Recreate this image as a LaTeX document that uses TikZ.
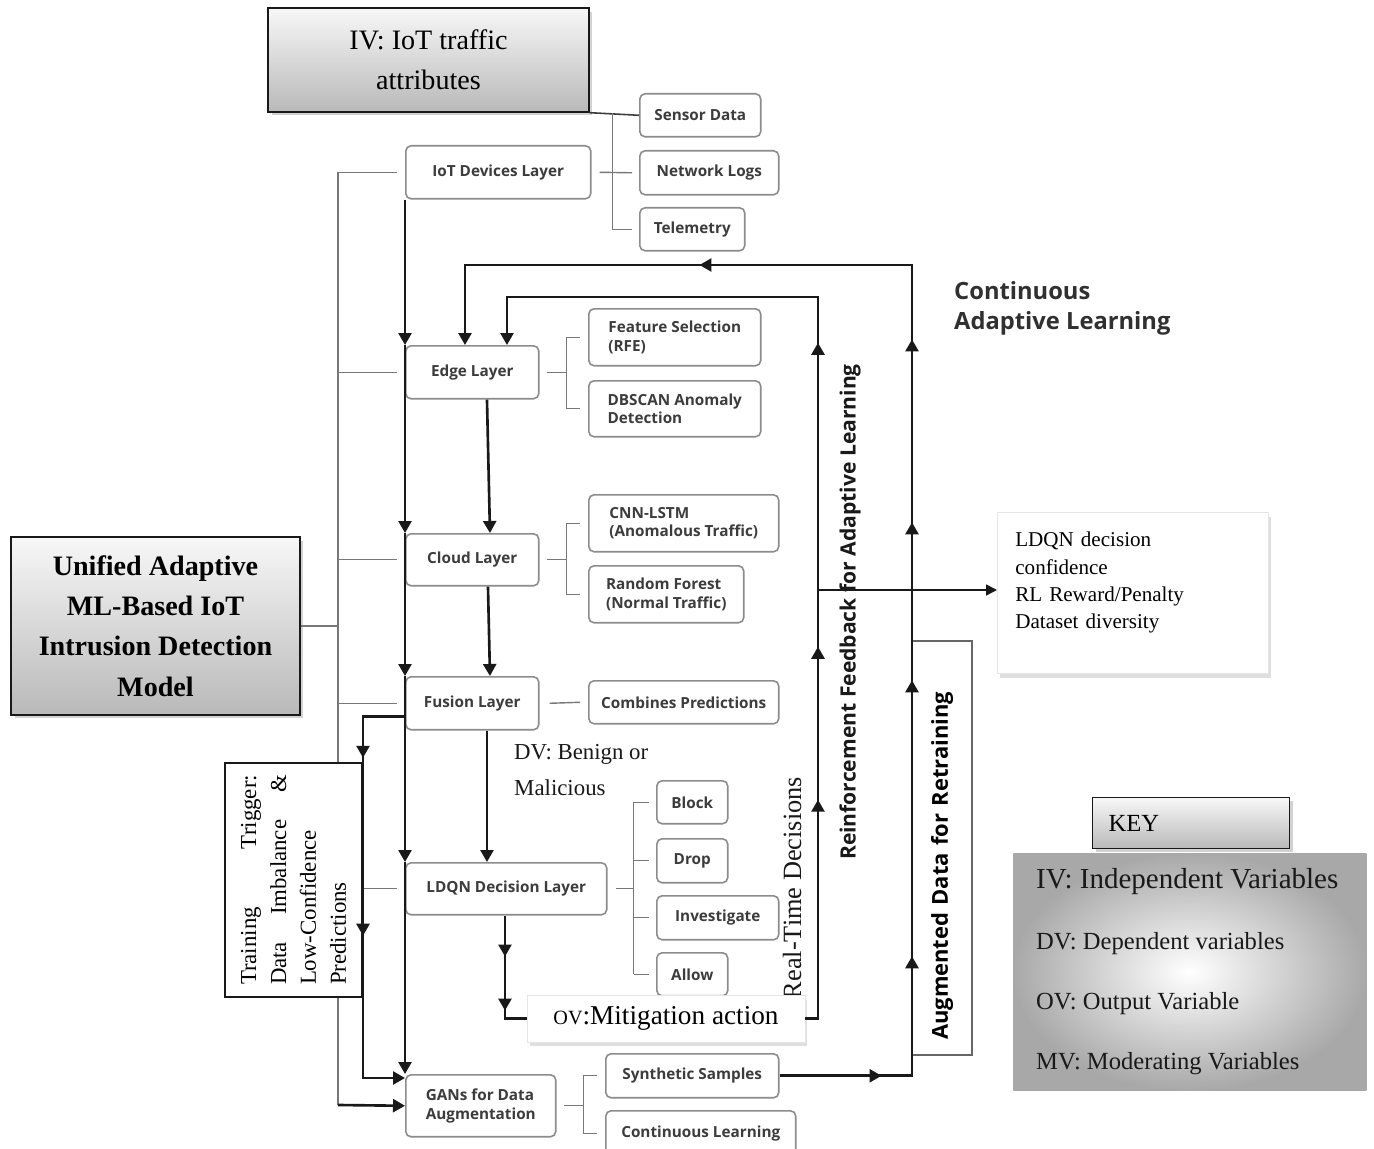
\documentclass[tikz,border=0pt]{standalone}
\usepackage{fontspec}
\setmainfont{Liberation Serif}
\newfontfamily\osans{Open Sans}
\usetikzlibrary{arrows.meta,shadows,calc,decorations.markings}
\definecolor{ink}{RGB}{25,25,25}
\definecolor{boxedge}{RGB}{140,140,140}
\definecolor{boxtext}{RGB}{60,60,60}
\definecolor{bracegray}{RGB}{120,120,120}
\tikzset{
  >={Triangle[length=2.4mm,width=2.6mm]},
  lbox/.style={draw=boxedge,line width=0.9pt,rounded corners=3pt,fill=white,
    anchor=north west,inner sep=0pt,align=left,text=boxtext,
    font=\osans\bfseries\fontsize{8.7}{10.6}\selectfont},
  vbox/.style={draw=ink,line width=0.8pt,top color=gray!6,bottom color=gray!55,
    align=center,drop shadow={opacity=0.35,shadow xshift=0.7mm,shadow yshift=-0.7mm}},
  note/.style={draw=gray!20,fill=white,
    drop shadow={opacity=0.25,shadow xshift=0.5mm,shadow yshift=-0.9mm}},
  flow/.style={line width=1.5pt,draw=ink},
  bline/.style={line width=0.8pt,draw=bracegray},
  sidelabel/.style={rotate=90,text=ink,font=\osans\bfseries\fontsize{12}{14}\selectfont},
  tipat/.style={postaction={decorate,decoration={markings,mark=at position #1 with {\arrow{>}}}}},
}
\begin{document}
\begin{tikzpicture}[x=0.02cm,y=-0.02cm]
\fill[white] (0,0) rectangle (1374,1149);
\useasboundingbox (0,0) rectangle (1374,1149);

% variable boxes
\node[vbox,minimum width=6.42cm,minimum height=2.08cm,font=\fontsize{16}{23}\selectfont] (iv) at (428.5,60) {IV: IoT traffic\\attributes};
\node[vbox,minimum width=5.78cm,minimum height=3.56cm,font=\bfseries\fontsize{16}{23}\selectfont] (uni) at (155.5,626) {Unified Adaptive\\ML-Based IoT\\Intrusion Detection\\Model};

% layers
\node[lbox,minimum width=3.70cm,minimum height=1.06cm] (iot) at (405,145) {IoT Devices Layer};
\node[lbox,minimum width=2.66cm,minimum height=1.06cm] (edge) at (405,345) {Edge Layer};
\node[lbox,minimum width=2.66cm,minimum height=1.04cm] (cloud) at (405,533) {Cloud Layer};
\node[lbox,minimum width=2.66cm,minimum height=1.06cm] (fusion) at (405,676) {Fusion Layer};
\node[lbox,minimum width=4.02cm,minimum height=1.04cm] (ldqn) at (405,862) {LDQN Decision Layer};
\node[lbox,minimum width=3.00cm,minimum height=1.24cm] (gans) at (405,1074) {GANs for Data\\Augmentation};

% layer details
\node[lbox,minimum width=2.42cm,minimum height=0.86cm] (sensor) at (639,93) {Sensor Data};
\node[lbox,minimum width=2.78cm,minimum height=0.88cm] (netlog) at (639,150) {Network Logs};
\node[lbox,minimum width=2.10cm,minimum height=0.86cm] (tele) at (639,207) {Telemetry};
\node[lbox,minimum width=3.44cm,minimum height=1.14cm] (rfe) at (588,308) {Feature Selection\\(RFE)};
\node[lbox,minimum width=3.44cm,minimum height=1.12cm] (dbscan) at (588,380) {DBSCAN Anomaly\\Detection};
\node[lbox,minimum width=3.80cm,minimum height=1.14cm] (cnn) at (588,494) {CNN-LSTM\\(Anomalous Traffic)};
\node[lbox,minimum width=3.10cm,minimum height=1.14cm] (rforest) at (588,565) {Random Forest\\(Normal Traffic)};
\node[lbox,minimum width=3.80cm,minimum height=0.86cm] (combine) at (588,680) {Combines Predictions};
\node[lbox,minimum width=1.42cm,minimum height=0.86cm] (block) at (656,780) {Block};
\node[lbox,minimum width=1.42cm,minimum height=0.88cm] (drop) at (656,838) {Drop};
\node[lbox,minimum width=2.44cm,minimum height=0.88cm] (invest) at (656,895) {Investigate};
\node[lbox,minimum width=1.42cm,minimum height=0.86cm] (allow) at (656,952) {Allow};
\node[lbox,minimum width=3.46cm,minimum height=0.88cm] (synth) at (605,1053) {Synthetic Samples};
\node[lbox,minimum width=3.80cm,minimum height=0.90cm] (contl) at (605,1110) {Continuous Learning};

% left bracket
\coordinate (brT) at (338,172);
\coordinate (brB) at (338,1105);
\draw[bline] (brT) -- (brB);
\foreach \n in {iot,edge,cloud,fusion,ldqn}
  \draw[bline] (brT |- \n.west) -- ([xshift=-0.16cm]\n.west);
\draw[bline] (uni.east) -- (brT |- uni.east);

% right brackets
\draw[line width=0.9pt,draw=ink!85] (iv.south east) -- (sensor.west);
\draw[bline] ([xshift=0.46cm]iv.south east) |- ([xshift=-0.14cm]tele.west);
\draw[bline] ([xshift=0.16cm]iot.east) -- ([xshift=-0.14cm]netlog.west);
\coordinate (bE) at ([xshift=0.54cm]edge.east);
\draw[bline] ([xshift=0.14cm]edge.east) -- (bE);
\draw[bline] ([xshift=-0.16cm]rfe.west) -| (bE) |- ([xshift=-0.16cm]dbscan.west);
\coordinate (bC) at ([xshift=0.54cm]cloud.east);
\draw[bline] ([xshift=0.14cm]cloud.east) -- (bC);
\draw[bline] ([xshift=-0.16cm]cnn.west) -| (bC) |- ([xshift=-0.16cm]rforest.west);
\draw[bline] ([xshift=0.2cm]fusion.east) -- ([xshift=-0.16cm]combine.west);
\coordinate (bL) at ([xshift=0.52cm]ldqn.east);
\draw[bline] ([xshift=0.16cm]ldqn.east) -- (bL);
\draw[bline] (bL |- block.west) -- (bL |- allow.west);
\foreach \n in {block,drop,invest,allow}
  \draw[bline] (bL |- \n.west) -- ([xshift=-0.14cm]\n.west);
\coordinate (bG) at ([xshift=0.54cm]gans.east);
\draw[bline] ([xshift=0.14cm]gans.east) -- (bG);
\draw[bline] ([xshift=-0.16cm]synth.west) -| (bG) |- ([xshift=-0.16cm]contl.west);

% moderating trigger
\node[draw=ink,fill=white,line width=0.8pt,rotate=90,minimum width=4.68cm,minimum height=2.74cm,
  text width=4.2cm,align=left,font=\fontsize{13}{17}\selectfont] (trig) at (293.5,880)
  {Training\hfill Trigger:\\Data\hfill Imbalance\hfill \&\\Low-Confidence\\Predictions};

% labels
\node[font=\osans\bfseries\fontsize{13.5}{17}\selectfont,text=ink!90,align=left,anchor=west] (cal) at (948,308) {Continuous\\Adaptive Learning};
\node[sidelabel] (rfl) at (850,612) {Reinforcement Feedback for Adaptive Learning};
\node[rotate=90,font=\fontsize{15}{18}\selectfont,text=ink] (rtd) at (792,888) {Real-Time Decisions};
\node[align=left,anchor=west,font=\fontsize{13}{20}\selectfont,text=ink] (dv) at (508,770) {DV: Benign or\\Malicious};
\node[draw=black!60,line width=0.8pt,rotate=90,minimum width=8.28cm,minimum height=1.2cm,
  text width=7.68cm,inner xsep=0.3cm,align=left,font=\osans\bfseries\fontsize{12.5}{14}\selectfont] (aug) at (942,848) {Augmented Data for Retraining};
\node[note,minimum width=5.56cm,minimum height=0.94cm,font=\fontsize{15.5}{18}\selectfont] (ov) at (666,1018.5)
  {{\fontsize{11.5}{13}\selectfont OV}:Mitigation action};
\node[note,anchor=north west,minimum width=5.42cm,minimum height=3.22cm,text width=4.7cm,inner xsep=0.36cm,
  text depth=2.14cm,align=left,font=\fontsize{12}{15.6}\selectfont] (out) at (997,512) {LDQN decision\\confidence\\RL Reward/Penalty\\Dataset diversity};

% key
\node[anchor=north west,minimum width=7.06cm,minimum height=4.74cm,inner color=white,outer color=gray!68] (keyp) at (1013,853) {};
\node[vbox,anchor=north west,minimum width=3.94cm,minimum height=1.02cm,text width=3.3cm,inner xsep=0.32cm,
  align=left,font=\fontsize{14}{16}\selectfont] (key) at (1092,797) {KEY};
\foreach \t/\y/\s [count=\i] in {IV: Independent Variables/882/16.5,DV: Dependent variables/944/14,
    OV: Output Variable/1004/14,MV: Moderating Variables/1064/14}
  \node[anchor=west,font=\fontsize{\s}{\s}\selectfont,text=ink] (kline\i) at (1030,\y) {\t};

% main flow
\draw[flow,->] (iot.south west) -- (edge.north west);
\draw[flow,->] (edge.north west) -- (cloud.north west);
\draw[flow,->] (cloud.north west) -- (fusion.north west);
\draw[flow,->] (fusion.north west) -- (ldqn.north west);
\draw[flow,->] (ldqn.north west) -- (gans.north west);
\draw[flow,->] ([xshift=1.64cm]edge.south west) -- ([xshift=1.70cm]cloud.north west);
\draw[flow,->] ([xshift=1.66cm]cloud.south west) -- ([xshift=1.70cm]fusion.north west);
\draw[flow,->] ([xshift=1.64cm]fusion.south west) -- ([xshift=1.64cm]ldqn.north west);
\draw[flow,tipat=0.82cm,tipat=1.9cm] ([xshift=2cm]ldqn.south west) |- (ov.west);

% retraining trigger
\coordinate (trk) at (363,1078);
\draw[flow,->,tipat=1.66cm,tipat=5.22cm] ([yshift=-0.27cm]fusion.west) -| (trk) -- (trk -| gans.west);
\draw[flow,->] (brB) -- (gans.west);

% feedback loops
\coordinate (rtTop) at (818,297);
\draw[flow,->,tipat=4.63cm,tipat=7.69cm,tipat=13.77cm] (ov.east) -| (rtTop) -| ([xshift=2.04cm]edge.north west);
\coordinate (rtTap) at (818,590);
\draw[line width=0.9pt,draw=ink,-{Triangle[length=2.2mm,width=2.2mm]}] (rtTap) -- (rtTap -| out.west);
\coordinate (clTop) at (912,265);
\draw[flow,->,tipat=2.04cm,tipat=5.04cm,tipat=10.56cm,tipat=13.72cm,tipat=17.38cm,tipat=23.12cm]
  (synth.east) -| (clTop) -| ([xshift=1.2cm]edge.north west);
\end{tikzpicture}
\end{document}
